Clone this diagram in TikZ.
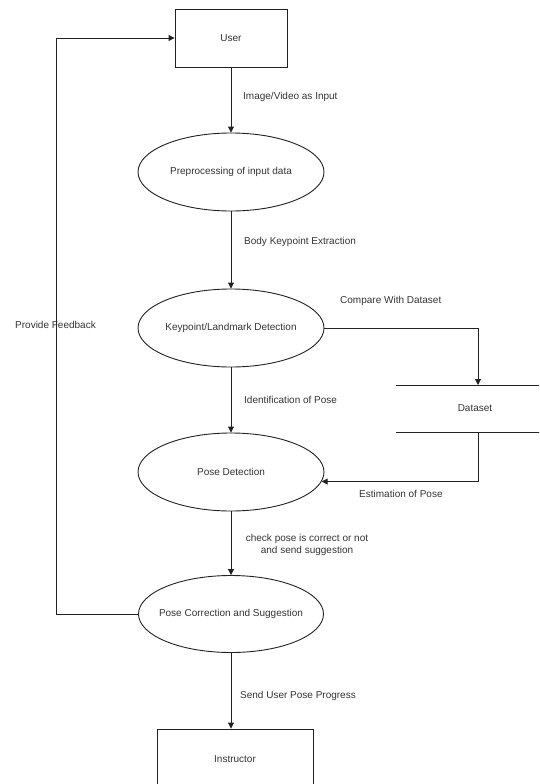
\documentclass[tikz,border=0pt]{standalone}
\usepackage{fontspec}
\setmainfont{Liberation Sans}
\usetikzlibrary{shapes.geometric,arrows.meta,calc}
\definecolor{txt}{HTML}{333333}
\definecolor{ln}{HTML}{222222}
\begin{document}
\begin{tikzpicture}[x=1pt,y=-1pt,
  every node/.style={font=\fontsize{10}{12}\selectfont,text=txt},
  procbox/.style={draw=ln,line width=0.9pt,rectangle,minimum width=112pt,minimum height=58pt,inner sep=0pt},
  instrbox/.style={draw=ln,line width=0.9pt,rectangle,minimum width=156pt,minimum height=60pt,inner sep=0pt},
  proc/.style={draw=ln,line width=0.9pt,ellipse,minimum width=186pt,minimum height=78pt,inner ysep=0pt,inner xsep=-25pt},
  flow/.style={draw=ln,line width=0.9pt,-{Triangle[length=6pt,width=6pt]}},
  plain/.style={draw=ln,line width=0.9pt},
  lbl/.style={anchor=west,inner sep=0pt}]
\useasboundingbox (0,0) rectangle (539,784);
\clip (0,0) rectangle (539,784);
\node[procbox] (user) at (231,38) {User};
\node[proc] (pre) at (231,172) {Preprocessing of input data};
\node[proc] (kp) at (231,328) {Keypoint/Landmark Detection};
\node[proc] (pd) at (231,472) {Pose Detection};
\node[proc,minimum width=185pt,minimum height=77pt] (pc) at (231,614) {Pose Correction and Suggestion};
\node[instrbox] (instr) at (235,759) {Instructor};
% dataset store
\coordinate (dsTL) at (396,385);
\coordinate (dsTR) at (545,385);
\coordinate (dsBL) at (396,432);
\coordinate (dsBR) at (545,432);
\coordinate (dsIn) at (478,385);
\coordinate (dsOut) at (478,432);
\draw[plain] (dsTL) -- (dsTR);
\draw[plain] (dsBL) -- (dsBR);
\node (ds) at (475,408) {Dataset};
% main flow
\draw[flow] (user) -- (pre);
\draw[flow] (pre) -- (kp);
\draw[flow] (kp) -- (pd);
\draw[flow] (pd) -- (pc);
\draw[flow] (pc.south) -- (pc.south |- instr.north);
\draw[flow] (kp.east) -| (dsIn);
\draw[flow] (dsOut) |- (pd.-6.5);
\coordinate (fb) at (56,614);
\draw[flow] (pc.west) -- (fb) |- (user.west);
% labels
\node[lbl] at (243,97) {Image/Video as Input};
\node[lbl] at (244,242) {Body Keypoint Extraction};
\node[lbl] at (244,400) {Identification of Pose};
\node[align=center,inner sep=0pt] at (307,545) {check pose is correct or not\\and send suggestion};
\node[lbl] at (240,696) {Send User Pose Progress};
\node[lbl] at (340,301) {Compare With Dataset};
\node[lbl] at (359,494) {Estimation of Pose};
\node[lbl] at (15,325) {Provide Feedback};
\end{tikzpicture}
\end{document}
